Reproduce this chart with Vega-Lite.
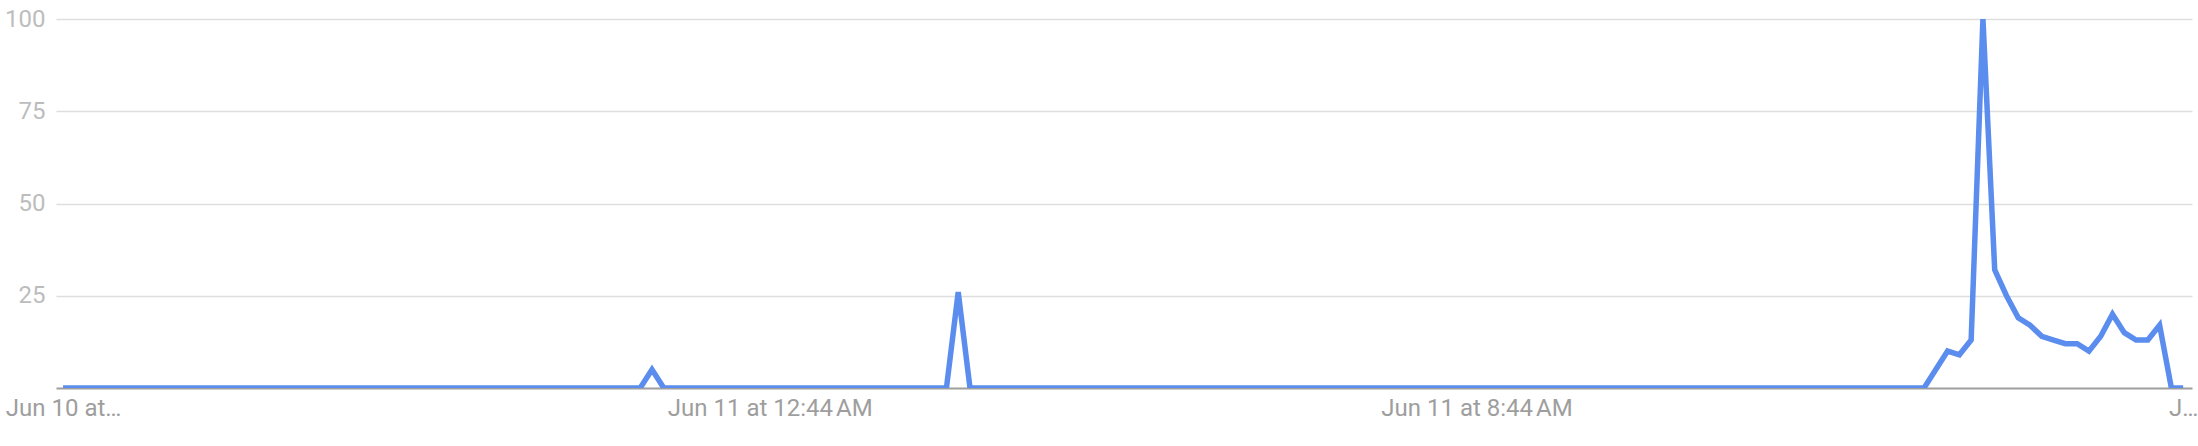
{
  "$schema": "https://vega.github.io/schema/vega-lite/v6.json",
  "autosize": "none",
  "padding": {"left": 56, "top": 19, "right": 6, "bottom": 58},
  "width": 2136,
  "height": 369,
  "background": "white",
  "data": {
    "values": [
      {"step": 0, "interest": 0}, {"step": 1, "interest": 0}, {"step": 2, "interest": 0}, {"step": 3, "interest": 0},
      {"step": 4, "interest": 0}, {"step": 5, "interest": 0}, {"step": 6, "interest": 0}, {"step": 7, "interest": 0},
      {"step": 8, "interest": 0}, {"step": 9, "interest": 0}, {"step": 10, "interest": 0}, {"step": 11, "interest": 0},
      {"step": 12, "interest": 0}, {"step": 13, "interest": 0}, {"step": 14, "interest": 0}, {"step": 15, "interest": 0},
      {"step": 16, "interest": 0}, {"step": 17, "interest": 0}, {"step": 18, "interest": 0}, {"step": 19, "interest": 0},
      {"step": 20, "interest": 0}, {"step": 21, "interest": 0}, {"step": 22, "interest": 0}, {"step": 23, "interest": 0},
      {"step": 24, "interest": 0}, {"step": 25, "interest": 0}, {"step": 26, "interest": 0}, {"step": 27, "interest": 0},
      {"step": 28, "interest": 0}, {"step": 29, "interest": 0}, {"step": 30, "interest": 0}, {"step": 31, "interest": 0},
      {"step": 32, "interest": 0}, {"step": 33, "interest": 0}, {"step": 34, "interest": 0}, {"step": 35, "interest": 0},
      {"step": 36, "interest": 0}, {"step": 37, "interest": 0}, {"step": 38, "interest": 0}, {"step": 39, "interest": 0},
      {"step": 40, "interest": 0}, {"step": 41, "interest": 0}, {"step": 42, "interest": 0}, {"step": 43, "interest": 0},
      {"step": 44, "interest": 0}, {"step": 45, "interest": 0}, {"step": 46, "interest": 0}, {"step": 47, "interest": 0},
      {"step": 48, "interest": 0}, {"step": 49, "interest": 0}, {"step": 50, "interest": 5}, {"step": 51, "interest": 0},
      {"step": 52, "interest": 0}, {"step": 53, "interest": 0}, {"step": 54, "interest": 0}, {"step": 55, "interest": 0},
      {"step": 56, "interest": 0}, {"step": 57, "interest": 0}, {"step": 58, "interest": 0}, {"step": 59, "interest": 0},
      {"step": 60, "interest": 0}, {"step": 61, "interest": 0}, {"step": 62, "interest": 0}, {"step": 63, "interest": 0},
      {"step": 64, "interest": 0}, {"step": 65, "interest": 0}, {"step": 66, "interest": 0}, {"step": 67, "interest": 0},
      {"step": 68, "interest": 0}, {"step": 69, "interest": 0}, {"step": 70, "interest": 0}, {"step": 71, "interest": 0},
      {"step": 72, "interest": 0}, {"step": 73, "interest": 0}, {"step": 74, "interest": 0}, {"step": 75, "interest": 0},
      {"step": 76, "interest": 26}, {"step": 77, "interest": 0}, {"step": 78, "interest": 0}, {"step": 79, "interest": 0},
      {"step": 80, "interest": 0}, {"step": 81, "interest": 0}, {"step": 82, "interest": 0}, {"step": 83, "interest": 0},
      {"step": 84, "interest": 0}, {"step": 85, "interest": 0}, {"step": 86, "interest": 0}, {"step": 87, "interest": 0},
      {"step": 88, "interest": 0}, {"step": 89, "interest": 0}, {"step": 90, "interest": 0}, {"step": 91, "interest": 0},
      {"step": 92, "interest": 0}, {"step": 93, "interest": 0}, {"step": 94, "interest": 0}, {"step": 95, "interest": 0},
      {"step": 96, "interest": 0}, {"step": 97, "interest": 0}, {"step": 98, "interest": 0}, {"step": 99, "interest": 0},
      {"step": 100, "interest": 0}, {"step": 101, "interest": 0}, {"step": 102, "interest": 0}, {"step": 103, "interest": 0},
      {"step": 104, "interest": 0}, {"step": 105, "interest": 0}, {"step": 106, "interest": 0}, {"step": 107, "interest": 0},
      {"step": 108, "interest": 0}, {"step": 109, "interest": 0}, {"step": 110, "interest": 0}, {"step": 111, "interest": 0},
      {"step": 112, "interest": 0}, {"step": 113, "interest": 0}, {"step": 114, "interest": 0}, {"step": 115, "interest": 0},
      {"step": 116, "interest": 0}, {"step": 117, "interest": 0}, {"step": 118, "interest": 0}, {"step": 119, "interest": 0},
      {"step": 120, "interest": 0}, {"step": 121, "interest": 0}, {"step": 122, "interest": 0}, {"step": 123, "interest": 0},
      {"step": 124, "interest": 0}, {"step": 125, "interest": 0}, {"step": 126, "interest": 0}, {"step": 127, "interest": 0},
      {"step": 128, "interest": 0}, {"step": 129, "interest": 0}, {"step": 130, "interest": 0}, {"step": 131, "interest": 0},
      {"step": 132, "interest": 0}, {"step": 133, "interest": 0}, {"step": 134, "interest": 0}, {"step": 135, "interest": 0},
      {"step": 136, "interest": 0}, {"step": 137, "interest": 0}, {"step": 138, "interest": 0}, {"step": 139, "interest": 0},
      {"step": 140, "interest": 0}, {"step": 141, "interest": 0}, {"step": 142, "interest": 0}, {"step": 143, "interest": 0},
      {"step": 144, "interest": 0}, {"step": 145, "interest": 0}, {"step": 146, "interest": 0}, {"step": 147, "interest": 0},
      {"step": 148, "interest": 0}, {"step": 149, "interest": 0}, {"step": 150, "interest": 0}, {"step": 151, "interest": 0},
      {"step": 152, "interest": 0}, {"step": 153, "interest": 0}, {"step": 154, "interest": 0}, {"step": 155, "interest": 0},
      {"step": 156, "interest": 0}, {"step": 157, "interest": 0}, {"step": 158, "interest": 0}, {"step": 159, "interest": 5},
      {"step": 160, "interest": 10}, {"step": 161, "interest": 9}, {"step": 162, "interest": 13}, {"step": 163, "interest": 100},
      {"step": 164, "interest": 32}, {"step": 165, "interest": 25}, {"step": 166, "interest": 19}, {"step": 167, "interest": 17},
      {"step": 168, "interest": 14}, {"step": 169, "interest": 13}, {"step": 170, "interest": 12}, {"step": 171, "interest": 12},
      {"step": 172, "interest": 10}, {"step": 173, "interest": 14}, {"step": 174, "interest": 20}, {"step": 175, "interest": 15},
      {"step": 176, "interest": 13}, {"step": 177, "interest": 13}, {"step": 178, "interest": 17}, {"step": 179, "interest": 0},
      {"step": 180, "interest": 0}
    ]
  },
  "mark": {
    "type": "line",
    "color": "#5b8def",
    "strokeWidth": 5.5,
    "clip": true
  },
  "encoding": {
    "x": {
      "field": "step",
      "type": "quantitative",
      "scale": {"domain": [-0.6, 180.75], "nice": false, "zero": false},
      "axis": {
        "title": null,
        "values": [0, 60, 120, 180],
        "labelExpr": "datum.value == 0 ? 'Jun 10 at…' : datum.value == 60 ? 'Jun 11 at 12:44\u202fAM' : datum.value == 120 ? 'Jun 11 at 8:44\u202fAM' : 'J…'",
        "grid": false,
        "ticks": false,
        "domainColor": "#9e9e9e",
        "domainWidth": 2,
        "labelColor": "#9e9e9e",
        "labelFont": "Roboto",
        "labelFontSize": 24,
        "labelPadding": 8,
        "labelLimit": 0,
        "labelOverlap": false,
        "labelFlush": false,
        "labelBound": false
      }
    },
    "y": {
      "field": "interest",
      "type": "quantitative",
      "scale": {"domain": [0, 100], "nice": false},
      "axis": {
        "title": null,
        "values": [25, 50, 75, 100],
        "domain": false,
        "ticks": false,
        "gridColor": "#dedede",
        "gridWidth": 1.5,
        "labelColor": "#bdbdbd",
        "labelFont": "Roboto",
        "labelFontSize": 24,
        "labelPadding": 11,
        "labelBaseline": "middle"
      }
    }
  },
  "config": {"view": {"stroke": null}}
}
